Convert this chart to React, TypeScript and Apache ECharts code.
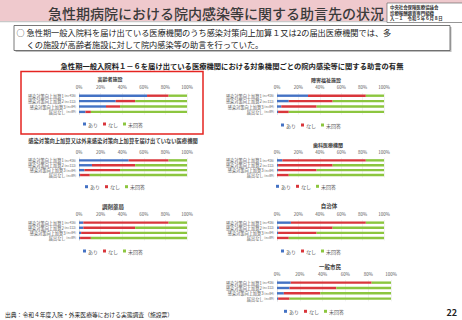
import React, { useEffect, useRef } from "react";
import * as echarts from "echarts";

const categories = [
  "感染対策向上加算1 (n=416)",
  "感染対策向上加算2 (n=113)",
  "感染対策向上加算3 (n=84)",
  "届出なし (n=89)",
];
const seriesNames = ["あり", "なし", "未回答"];
const xTicks = [0, 20, 40, 60, 80, 100];

const chartTitles = [
  "高齢者施設",
  "障害福祉施設",
  "感染対策向上加算又は外来感染対策向上加算を届け出ていない医療機関",
  "歯科医療機関",
  "調剤薬局",
  "自治体",
  "一般市民",
];

const ariValues = [
  [63, 34, 25, 6],
  [29, 11, 4, 1],
  [46, 12, 5, 1],
  [5, 1, 1, 0],
  [4, 4, 2, 1],
  [13, 2, 1, 0],
  [12, 11, 6, 1],
];
const nashiValues = [
  [20, 18, 13, 5],
  [54, 41, 33, 10],
  [37, 40, 33, 9],
  [78, 51, 36, 11],
  [79, 48, 36, 10],
  [70, 50, 36, 11],
  [71, 41, 32, 10],
];
const mikaitoValues = [
  [17, 48, 62, 89],
  [17, 48, 63, 89],
  [17, 48, 62, 90],
  [17, 48, 63, 89],
  [17, 48, 62, 89],
  [17, 48, 63, 89],
  [17, 48, 62, 89],
];

const headerTitle = "急性期病院における院内感染等に関する助言先の状況";
const stampLines = ["中央社会保険医療協議会", "診療報酬調査専門組織", "入－１　令和５年６月８日"];
const summaryLines = [
  "急性期一般入院料を届け出ている医療機関のうち感染対策向上加算１又は2の届出医療機関では、多",
  "くの施設が高齢者施設に対して院内感染等の助言を行っていた。",
];
const subTitle = "急性期一般入院料１－６を届け出ている医療機関における対象機関ごとの院内感染等に関する助言の有無";
const sourceText = "出典：令和４年度入院・外来医療等における実態調査（施設票）";
const pageNo = "22";

// layout (positions only)
const layouts = [
  { gl: 79, gr: 187, gt: 93, gh: 21.6, tx: 110, ty: 78.5, lx: 83, ly: 125, tf: 5 },
  { gl: 277, gr: 384, gt: 93, gh: 21.6, tx: 326, ty: 79, lx: 281, ly: 126, tf: 5 },
  { gl: 79, gr: 187, gt: 157.9, gh: 19.6, tx: 113, ty: 141, lx: 85, ly: 187.7, tf: 5.3 },
  { gl: 277, gr: 384, gt: 157.9, gh: 19.6, tx: 328, ty: 144, lx: 276, ly: 187.3, tf: 5 },
  { gl: 79, gr: 187, gt: 220.1, gh: 20.4, tx: 113, ty: 206.5, lx: 83, ly: 252, tf: 5.5 },
  { gl: 277, gr: 384, gt: 220.1, gh: 20.4, tx: 329, ty: 206, lx: 281, ly: 252, tf: 5.5 },
  { gl: 277, gr: 391, gt: 280, gh: 21.3, tx: 330, ty: 267, lx: 284, ly: 312.3, tf: 5.5 },
];

const colors = ["#4472c4", "#d9363b", "#8cc63f"];
const FONT = "'Noto Sans CJK JP', 'Noto Sans', sans-serif";

export default function App() {
  const ref = useRef<HTMLDivElement>(null);
  useEffect(() => {
    if (!ref.current) return;
    const chart = echarts.init(ref.current, null, { renderer: "svg" });
    const W = 462;
    const grids: any[] = [];
    const xAxes: any[] = [];
    const yAxes: any[] = [];
    const series: any[] = [];
    const legends: any[] = [];
    const valueSets = [ariValues, nashiValues, mikaitoValues];

    layouts.forEach((L, i) => {
      grids.push({ left: L.gl, width: L.gr - L.gl, top: L.gt, height: L.gh, containLabel: false });
      xAxes.push({
        type: "value",
        gridIndex: i,
        min: xTicks[0],
        max: xTicks[xTicks.length - 1],
        interval: xTicks[1] - xTicks[0],
        position: "top",
        axisLine: { show: false },
        axisTick: { show: false },
        splitLine: { show: true, lineStyle: { color: "#e3e3e3", width: 0.5 } },
        axisLabel: { formatter: "{value}%", fontSize: 4.5, color: "#595959", margin: 4, fontFamily: FONT },
      });
      yAxes.push({
        type: "category",
        gridIndex: i,
        data: categories,
        inverse: true,
        axisLine: { show: true, lineStyle: { color: "#d0d0d0", width: 0.5 } },
        axisTick: { show: false },
        axisLabel: {
          interval: 0,
          margin: 3,
          color: "#595959",
          fontFamily: FONT,
          formatter: (v: string) => {
            const k = v.indexOf(" (");
            return `{a|${v.slice(0, k)}}{b|${v.slice(k)}}`;
          },
          rich: {
            a: { fontSize: 4.2, color: "#595959", fontFamily: FONT },
            b: { fontSize: 3.3, color: "#595959", fontFamily: FONT },
          },
        },
      });
      seriesNames.forEach((name, s) => {
        series.push({
          type: "bar",
          name,
          xAxisIndex: i,
          yAxisIndex: i,
          stack: "c" + i,
          barWidth: 2.4,
          itemStyle: { color: colors[s] },
          data: valueSets[s][i],
        });
      });
      legends.push({
        data: seriesNames,
        left: L.lx,
        top: L.ly - 3.5,
        itemWidth: 3,
        itemHeight: 3,
        itemGap: 5,
        icon: "rect",
        padding: 0,
        textStyle: { fontSize: 5, color: "#595959", fontFamily: FONT, padding: [0, 0, 0, -3] },
      });
    });

    const graphics: any[] = [
      { type: "rect", shape: { x: 0, y: 0, width: W, height: 21 }, style: { fill: "#efc9cd" }, silent: true },
      { type: "rect", shape: { x: 0, y: 21, width: W, height: 1.2 }, style: { fill: "#c8c8c8" }, silent: true },
      {
        type: "text",
        x: 48,
        y: 12.5,
        style: { text: headerTitle, font: `500 14px ${FONT}`, fill: "#3a3a3a", textAlign: "left", textVerticalAlign: "middle", align: "left", verticalAlign: "middle" },
      },
      { type: "rect", shape: { x: 387, y: 3, width: 76, height: 19.5 }, style: { fill: "#ffffff", stroke: "#555555", lineWidth: 0.6 } },
      {
        type: "text",
        x: 390,
        y: 12.5,
        style: { text: stampLines.join("\n"), font: `bold 4.4px ${FONT}`, lineHeight: 5.8, fill: "#333333", textAlign: "left", textVerticalAlign: "middle", align: "left", verticalAlign: "middle" },
      },
      { type: "rect", shape: { x: 15.5, y: 27, width: 436, height: 25 }, style: { fill: "#bdbdbd" } },
      { type: "rect", shape: { x: 14, y: 25.5, width: 436, height: 25 }, style: { fill: "#ffffff", stroke: "#555555", lineWidth: 0.8 } },
      {
        type: "text",
        x: 16.5,
        y: 32.6,
        style: { text: "○", font: `8px ${FONT}`, fill: "#222222", textAlign: "left", textVerticalAlign: "middle", align: "left", verticalAlign: "middle" },
      },
      ...summaryLines.map((t, k) => ({
        type: "text",
        x: 26.5,
        y: 32.4 + k * 11.8,
        style: { text: t, font: `8.2px ${FONT}`, fill: "#222222", textAlign: "left", textVerticalAlign: "middle", align: "left", verticalAlign: "middle" },
      })),
      {
        type: "text",
        x: 232,
        y: 66,
        style: { text: subTitle, font: `bold 7.3px ${FONT}`, fill: "#222222", textAlign: "center", textVerticalAlign: "middle", align: "center", verticalAlign: "middle" },
      },
      { type: "rect", shape: { x: 21, y: 71.5, width: 182, height: 62.5 }, style: { fill: "none", stroke: "#e52421", lineWidth: 1.5 } },
      ...layouts.map((L, i) => ({
        type: "text",
        x: L.tx,
        y: L.ty,
        style: { text: chartTitles[i], font: `bold ${L.tf}px ${FONT}`, fill: "#404040", textAlign: "center", textVerticalAlign: "middle", align: "center", verticalAlign: "middle" },
      })),
      {
        type: "text",
        x: 5,
        y: 314,
        style: { text: sourceText, font: `5.8px ${FONT}`, fill: "#222222", textAlign: "left", textVerticalAlign: "middle", align: "left", verticalAlign: "middle" },
      },
      {
        type: "text",
        x: 457,
        y: 312.5,
        style: { text: pageNo, font: `bold 9px ${FONT}`, fill: "#222222", textAlign: "right", textVerticalAlign: "middle", align: "right", verticalAlign: "middle" },
      },
    ];

    chart.setOption({
      animation: false,
      backgroundColor: "#ffffff",
      textStyle: { fontFamily: FONT },
      grid: grids,
      xAxis: xAxes,
      yAxis: yAxes,
      series,
      legend: legends,
      graphic: graphics,
    });
    return () => chart.dispose();
  }, []);
  return <div ref={ref} style={{ position: "absolute", left: 0, top: 0, width: 462, height: 320 }} />;
}
